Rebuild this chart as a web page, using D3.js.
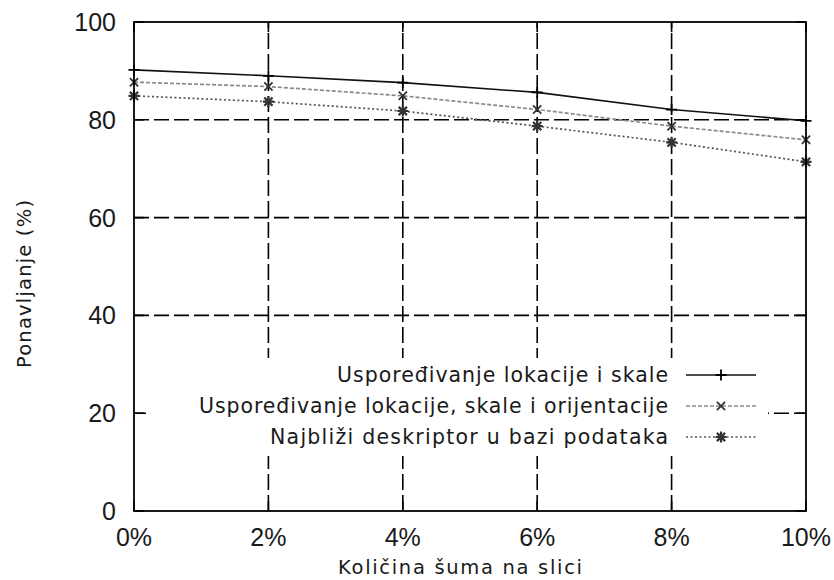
<!DOCTYPE html>
<html>
<head>
<meta charset="utf-8">
<script src="https://cdn.jsdelivr.net/npm/d3@7"></script>
<style>
  html, body { margin: 0; padding: 0; background: #fff; }
  svg { display: block; }
</style>
</head>
<body>
<svg id="chart" width="834" height="580"></svg>
<script>
const categories = ["0%", "2%", "4%", "6%", "8%", "10%"];
const seriesNames = [
  "Uspoređivanje lokacije i skale",
  "Uspoređivanje lokacije, skale i orijentacije",
  "Najbliži deskriptor u bazi podataka"
];
const series1 = [90.2, 89.0, 87.6, 85.6, 82.1, 79.8];
const series2 = [87.7, 86.8, 84.9, 82.1, 78.7, 75.9];
const series3 = [84.9, 83.7, 81.8, 78.7, 75.4, 71.4];
const yTicks = [0, 20, 40, 60, 80, 100];
const xLabel = "Količina šuma na slici";
const yLabel = "Ponavljanje (%)";

const svg = d3.select("#chart");
const margin = {left: 134, right: 28, top: 22, bottom: 69};
const W = 834, H = 580;
const x = d3.scalePoint().domain(categories).range([margin.left, W - margin.right]);
const y = d3.scaleLinear().domain([0, 100]).range([H - margin.bottom, margin.top]);

const g = svg.append("g");
const x0 = margin.left, x1 = W - margin.right, y0 = H - margin.bottom, y1 = margin.top;
const titleFont = "DejaVu Sans, Verdana, sans-serif";
const tickFont = "Liberation Sans, Arial, sans-serif";

// grid
g.selectAll(".hgrid").data(yTicks.filter(d => d > 0 && d < 100)).join("line")
  .attr("x1", x0).attr("x2", x1).attr("y1", d => y(d)).attr("y2", d => y(d))
  .attr("stroke", "#000").attr("stroke-width", 1.6).attr("stroke-dasharray", "15,5");
g.selectAll(".vgrid").data(categories.slice(1, -1)).join("line")
  .attr("x1", d => x(d)).attr("x2", d => x(d)).attr("y1", y0).attr("y2", y1)
  .attr("stroke", "#000").attr("stroke-width", 1.6).attr("stroke-dasharray", "16,5");

// series
const styles = [
  {data: series1, color: "#111", dash: null, width: 1.6, marker: "plus"},
  {data: series2, color: "#8a8a8a", dash: "4,2", width: 1.7, marker: "cross"},
  {data: series3, color: "#555", dash: "2,2.5", width: 1.7, marker: "star"}
];
const line = d3.line().x((d, i) => x(categories[i])).y(d => y(d));

function drawMarker(sel, type, cx, cy, color) {
  const s = 5.5;
  const p = d3.path();
  if (type === "plus" || type === "star") {
    p.moveTo(cx - s, cy); p.lineTo(cx + s, cy);
    p.moveTo(cx, cy - s); p.lineTo(cx, cy + s);
  }
  if (type === "cross" || type === "star") {
    const t = s * 0.75;
    p.moveTo(cx - t, cy - t); p.lineTo(cx + t, cy + t);
    p.moveTo(cx - t, cy + t); p.lineTo(cx + t, cy - t);
  }
  sel.append("path").attr("d", p.toString()).attr("stroke", color)
    .attr("stroke-width", type === "star" ? 2.2 : 1.8).attr("fill", "none");
}

styles.forEach(st => {
  g.append("path").datum(st.data).attr("d", line).attr("fill", "none")
    .attr("stroke", st.color).attr("stroke-width", st.width)
    .attr("stroke-dasharray", st.dash);
  st.data.forEach((v, i) => drawMarker(g, st.marker, x(categories[i]), y(v), st.marker === "plus" ? "#000" : "#333"));
});

// legend (opaque)
const leg = svg.append("g");
leg.append("rect").attr("x", 146).attr("y", 358).attr("width", 622).attr("height", 98).attr("fill", "#fff");
const rowY = [375, 406, 437];
const legWidths = [331, 469, 398];
styles.forEach((st, i) => {
  leg.append("text").attr("x", 668 - legWidths[i]).attr("y", rowY[i]).attr("dy", "0.36em")
    .attr("font-family", titleFont).attr("font-size", 20.5)
    .attr("textLength", legWidths[i]).attr("lengthAdjust", "spacing")
    .attr("fill", "#1a1a1a").text(seriesNames[i]);
  leg.append("line").attr("x1", 686).attr("x2", 756).attr("y1", rowY[i]).attr("y2", rowY[i])
    .attr("stroke", st.color).attr("stroke-width", st.width).attr("stroke-dasharray", st.dash);
  drawMarker(leg, st.marker, 721, rowY[i], st.marker === "plus" ? "#000" : "#333");
});

// ticks (inward, mirrored)
const tl = 10;
yTicks.forEach(t => {
  svg.append("line").attr("x1", x0).attr("x2", x0 + tl).attr("y1", y(t)).attr("y2", y(t)).attr("stroke", "#000").attr("stroke-width", 1.6);
  svg.append("line").attr("x1", x1).attr("x2", x1 - tl).attr("y1", y(t)).attr("y2", y(t)).attr("stroke", "#000").attr("stroke-width", 1.6);
});
categories.forEach(c => {
  svg.append("line").attr("x1", x(c)).attr("x2", x(c)).attr("y1", y0).attr("y2", y0 - tl).attr("stroke", "#000").attr("stroke-width", 1.6);
  svg.append("line").attr("x1", x(c)).attr("x2", x(c)).attr("y1", y1).attr("y2", y1 + tl).attr("stroke", "#000").attr("stroke-width", 1.6);
});

// frame
svg.append("rect").attr("x", x0).attr("y", y1).attr("width", x1 - x0).attr("height", y0 - y1)
  .attr("fill", "none").attr("stroke", "#000").attr("stroke-width", 1.8);

// tick labels
svg.selectAll(".ylab").data(yTicks).join("text")
  .attr("x", 116).attr("y", d => y(d)).attr("dy", "0.36em").attr("text-anchor", "end")
  .attr("font-family", tickFont).attr("font-size", 25).attr("fill", "#1a1a1a")
  .text(d => d);
svg.selectAll(".xlab").data(categories).join("text")
  .attr("x", d => x(d)).attr("y", 537).attr("dy", "0.36em").attr("text-anchor", "middle")
  .attr("font-family", tickFont).attr("font-size", 25).attr("fill", "#1a1a1a")
  .text(d => d);

// axis titles
svg.append("text").attr("x", 338).attr("y", 574)
  .attr("font-family", titleFont).attr("font-size", 19.5).attr("fill", "#1a1a1a")
  .attr("textLength", 244).attr("lengthAdjust", "spacing").text(xLabel);
svg.append("text").attr("transform", "translate(31,368) rotate(-90)")
  .attr("font-family", titleFont).attr("font-size", 19.5).attr("fill", "#1a1a1a")
  .attr("textLength", 168).attr("lengthAdjust", "spacing").text(yLabel);
</script>
</body>
</html>
